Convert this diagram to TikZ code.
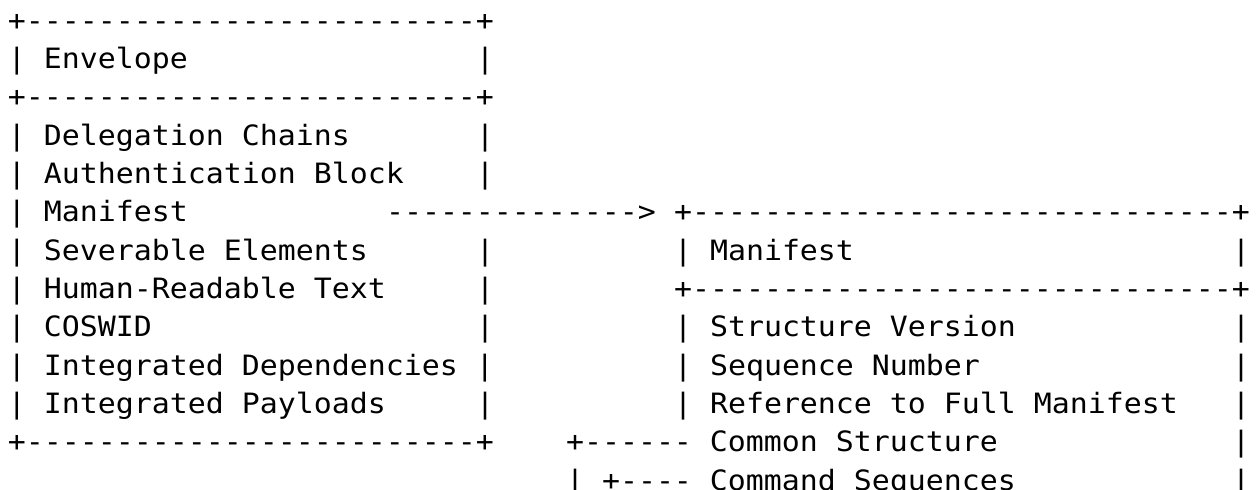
\documentclass[tikz,border=0pt]{standalone}
\usepackage{fontspec}
\setmonofont{DejaVu Sans Mono}[FakeStretch=1.0678]
\tikzset{
  asc/.style={inner sep=0pt, outer sep=0pt, anchor=base west,
    font=\ttfamily\fontsize{14}{17}\selectfont, text=black}
}
% \seg{name}{column}{row}{text}
\newcommand\seg[4]{\node[asc] (#1) at ({4pt+#2*9pt},{-15pt-#3*19.1667pt}) {#4};}
\begin{document}
\begin{tikzpicture}
\useasboundingbox[fill=white] (0,0) rectangle (629pt,-244.5pt);
% left box (Envelope)
\seg{etop}{0}{0}{+-------------------------+}
\seg{ehead}{0}{1}{| Envelope}
\seg{eheadr}{26}{1}{|}
\seg{emid}{0}{2}{+-------------------------+}
\seg{e3}{0}{3}{| Delegation Chains}
\seg{e3r}{26}{3}{|}
\seg{e4}{0}{4}{| Authentication Block}
\seg{e4r}{26}{4}{|}
\seg{e5}{0}{5}{| Manifest}
\seg{arrow}{21}{5}{-------------->}
\seg{e6}{0}{6}{| Severable Elements}
\seg{e6r}{26}{6}{|}
\seg{e7}{0}{7}{| Human-Readable Text}
\seg{e7r}{26}{7}{|}
\seg{e8}{0}{8}{| COSWID}
\seg{e8r}{26}{8}{|}
\seg{e9}{0}{9}{| Integrated Dependencies |}
\seg{e10}{0}{10}{| Integrated Payloads}
\seg{e10r}{26}{10}{|}
\seg{ebot}{0}{11}{+-------------------------+}
% right box (Manifest)
\seg{mtop}{37}{5}{+------------------------------+}
\seg{mhead}{37}{6}{| Manifest}
\seg{mheadr}{68}{6}{|}
\seg{mmid}{37}{7}{+------------------------------+}
\seg{m8}{37}{8}{| Structure Version}
\seg{m8r}{68}{8}{|}
\seg{m9}{37}{9}{| Sequence Number}
\seg{m9r}{68}{9}{|}
\seg{m10}{37}{10}{| Reference to Full Manifest}
\seg{m10r}{68}{10}{|}
\seg{m11}{31}{11}{+------ Common Structure}
\seg{m11r}{68}{11}{|}
\seg{m12}{31}{12}{| +---- Command Sequences}
\seg{m12r}{68}{12}{|}
\end{tikzpicture}
\end{document}
